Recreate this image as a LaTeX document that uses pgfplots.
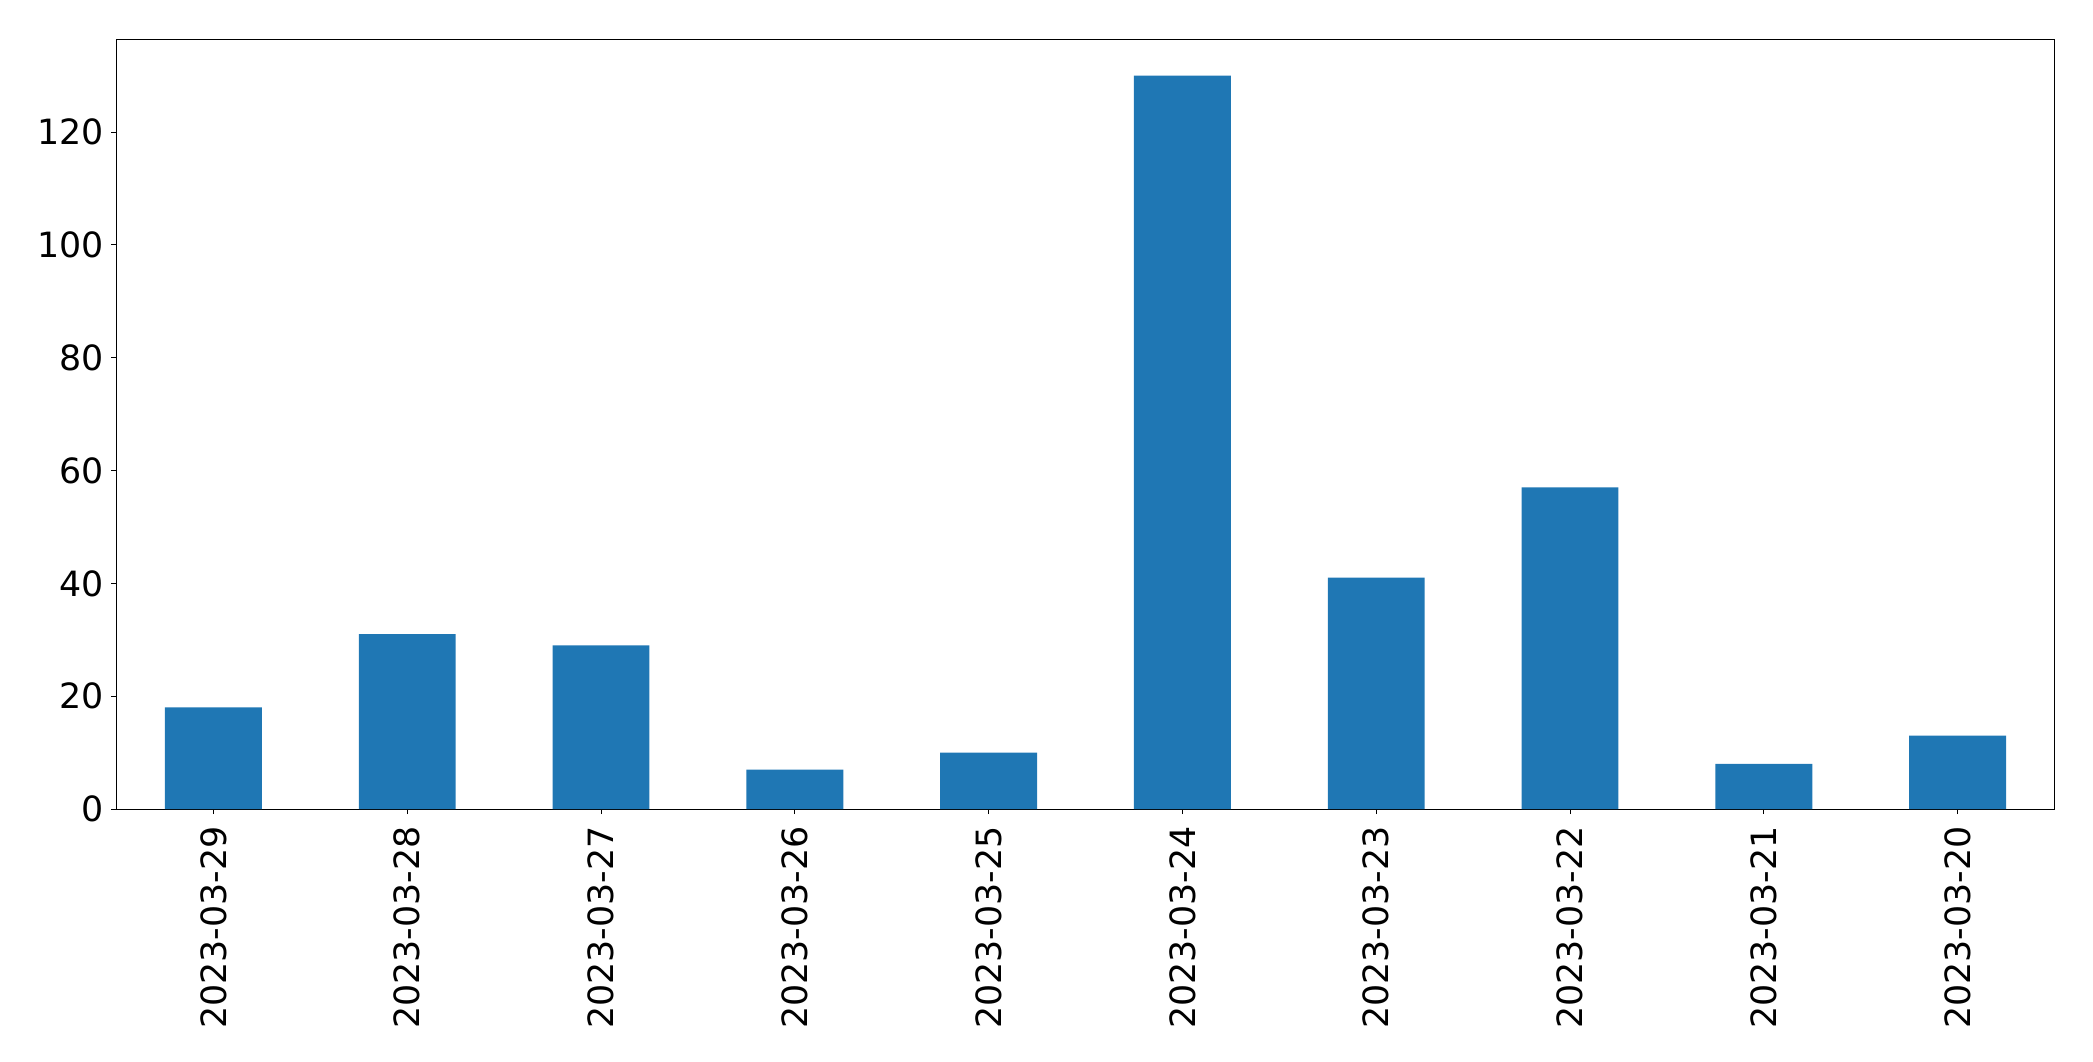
\documentclass[border=0pt]{standalone}
\usepackage{fontspec}
\setmainfont{DejaVu Sans}
\usepackage{pgfplots}
\pgfplotsset{compat=1.18}
\definecolor{barblue}{HTML}{1F77B4}
\begin{document}
\begin{tikzpicture}
\useasboundingbox (-58.25pt,-126pt) rectangle ++(1046.5pt,530.5pt);
\begin{axis}[
  at={(0pt,0pt)}, anchor=south west,
  scale only axis,
  width=969pt, height=385pt,
  xmin=-0.5, xmax=9.5,
  ymin=0, ymax=136.5,
  xtick={0,...,9},
  xticklabels={2023-03-29,2023-03-28,2023-03-27,2023-03-26,2023-03-25,2023-03-24,2023-03-23,2023-03-22,2023-03-21,2023-03-20},
  ytick={0,20,40,60,80,100,120},
  tick align=outside,
  tick pos=left,
  major tick length=2.5pt,
  axis line style={line width=0.5pt},
  every tick/.style={black, line width=0.5pt},
  /pgf/number format/assume math mode=true,
  tick label style={font=\fontsize{17.4pt}{20pt}\selectfont, inner sep=0pt},
  x tick label style={rotate=90, anchor=east},
  xticklabel shift=6pt,
  yticklabel shift=3.75pt,
]
\addplot[ybar, bar width=0.5, fill=barblue, draw=none] coordinates {
(0,18) (1,31) (2,29) (3,7) (4,10) (5,130) (6,41) (7,57) (8,8) (9,13)
};
\end{axis}
\end{tikzpicture}
\end{document}
